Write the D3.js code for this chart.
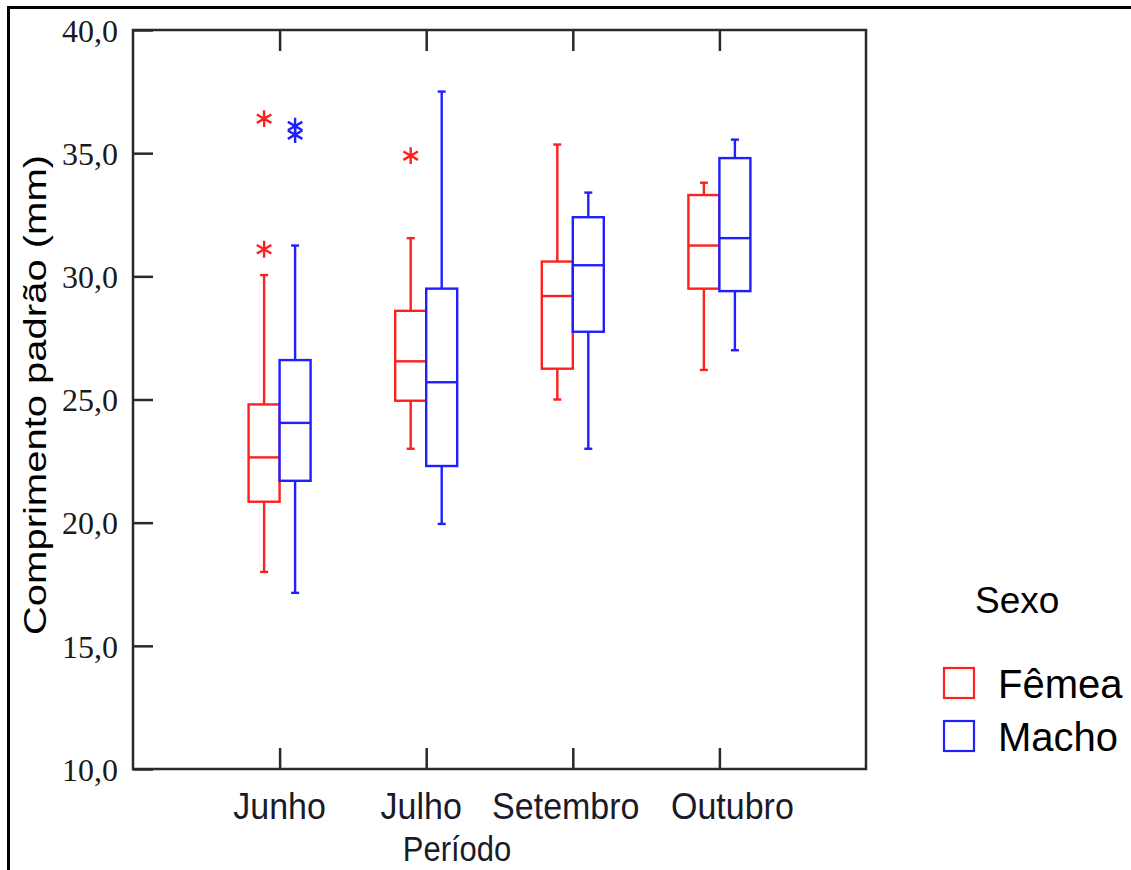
<!DOCTYPE html>
<html>
<head>
<meta charset="utf-8">
<script src="https://cdn.jsdelivr.net/npm/d3@7"></script>
<style>
  html, body { margin: 0; padding: 0; background: #fff; }
  svg { display: block; }
</style>
</head>
<body>
<svg id="chart" width="1131" height="870"></svg>
<script>
// Standard length (mm) by sampling period and sex
const categories = ["Junho", "Julho", "Setembro", "Outubro"];
const sexes = ["Fêmea", "Macho"];
const yTicks = [10, 15, 20, 25, 30, 35, 40];

const femeaMin = [18.0, 23.0, 25.0, 26.2];
const femeaQ1  = [20.85, 24.95, 26.25, 29.5];
const femeaMed = [22.65, 26.55, 29.2, 31.25];
const femeaQ3  = [24.8, 28.6, 30.6, 33.3];
const femeaMax = [30.05, 31.55, 35.35, 33.8];

const machoMin = [17.15, 19.95, 23.0, 27.0];
const machoQ1  = [21.7, 22.3, 27.75, 29.4];
const machoMed = [24.05, 25.7, 30.45, 31.55];
const machoQ3  = [26.6, 29.5, 32.4, 34.8];
const machoMax = [31.25, 37.5, 33.4, 35.55];

const femeaOutCat = ["Junho", "Junho", "Julho"];
const femeaOutVal = [36.4, 31.1, 34.9];
const machoOutCat = ["Junho", "Junho"];
const machoOutVal = [36.1, 35.75];

const colors = { "Fêmea": "#ff1f1f", "Macho": "#1f1fff" };

const boxes = [];
categories.forEach((c, i) => {
  boxes.push({ cat: c, sex: "Fêmea", min: femeaMin[i], q1: femeaQ1[i], med: femeaMed[i], q3: femeaQ3[i], max: femeaMax[i] });
  boxes.push({ cat: c, sex: "Macho", min: machoMin[i], q1: machoQ1[i], med: machoMed[i], q3: machoQ3[i], max: machoMax[i] });
});
const outliers = [
  ...femeaOutCat.map((c, i) => ({ cat: c, sex: "Fêmea", v: femeaOutVal[i] })),
  ...machoOutCat.map((c, i) => ({ cat: c, sex: "Macho", v: machoOutVal[i] }))
];

const svg = d3.select("#chart");
const plot = { left: 133, right: 866, top: 30, bottom: 769 };

const x = d3.scalePoint().domain(categories).range([plot.left, plot.right]).padding(1);
const xs = d3.scaleBand().domain(sexes).range([-31, 31]);
const y = d3.scaleLinear().domain([10, 40]).range([plot.bottom, plot.top]);

const axisColor = "#2a2a2a";

// outer frame (top and left edges)
svg.append("line").attr("x1", 8).attr("x2", 1131).attr("y1", 7.5).attr("y2", 7.5)
  .attr("stroke", "#000").attr("stroke-width", 3);
svg.append("line").attr("x1", 8.5).attr("x2", 8.5).attr("y1", 6).attr("y2", 870)
  .attr("stroke", "#000").attr("stroke-width", 3);

// plot frame
svg.append("rect")
  .attr("x", plot.left).attr("y", plot.top)
  .attr("width", plot.right - plot.left).attr("height", plot.bottom - plot.top)
  .attr("fill", "none").attr("stroke", axisColor).attr("stroke-width", 2.5);

// y axis with inward ticks
const yAxis = d3.axisRight(y).tickValues(yTicks).tickSize(20)
  .tickFormat(d => d3.format(".1f")(d).replace(".", ","));
const gy = svg.append("g").attr("transform", `translate(${plot.left},0)`).call(yAxis);
gy.select(".domain").remove();
gy.selectAll(".tick line").attr("stroke", axisColor).attr("stroke-width", 2.5);
gy.selectAll(".tick text")
  .attr("x", -15).attr("dy", "0.35em").attr("text-anchor", "end")
  .attr("fill", "#1a1a1a")
  .style("font-family", "'Liberation Serif', serif").style("font-size", "32px");

// x axis ticks at bottom (inward) and top (inward)
const xAxisB = d3.axisTop(x).tickSize(21).tickFormat("");
const gxb = svg.append("g").attr("transform", `translate(0,${plot.bottom})`).call(xAxisB);
gxb.select(".domain").remove();
gxb.selectAll(".tick line").attr("stroke", axisColor).attr("stroke-width", 2.5);

const xAxisT = d3.axisBottom(x).tickSize(21).tickFormat("");
const gxt = svg.append("g").attr("transform", `translate(0,${plot.top})`).call(xAxisT);
gxt.select(".domain").remove();
gxt.selectAll(".tick line").attr("stroke", axisColor).attr("stroke-width", 2.5);

// category labels (small nudges keep neighbouring labels apart)
const labelNudge = { "Junho": 0, "Julho": -5, "Setembro": -7, "Outubro": 13 };
svg.append("g").selectAll("text").data(categories).join("text")
  .attr("transform", d => `translate(${x(d) + labelNudge[d]},819) scale(1,1.1)`)
  .attr("text-anchor", "middle")
  .attr("fill", "#1a1a2a")
  .style("font-family", "'Liberation Sans', Arial, sans-serif").style("font-size", "34px")
  .text(d => d);

// axis titles
svg.append("text")
  .attr("transform", "translate(457,861) scale(1,1.15)")
  .attr("text-anchor", "middle").attr("fill", "#1a1a2a")
  .style("font-family", "'Liberation Sans', Arial, sans-serif").style("font-size", "31px")
  .text("Período");

svg.append("text")
  .attr("transform", "translate(46,395) scale(1,1.25) rotate(-90)")
  .attr("text-anchor", "middle").attr("fill", "#000")
  .style("font-family", "'Liberation Sans', Arial, sans-serif").style("font-size", "32px")
  .text("Comprimento padrão (mm)");

// box plots
const g = svg.append("g");
const bx = d => x(d.cat) + xs(d.sex);
const cx = d => bx(d) + xs.bandwidth() / 2;
const capW = 4;

const items = g.selectAll("g.box").data(boxes).join("g").attr("class", "box")
  .attr("stroke", d => colors[d.sex]).attr("stroke-width", 2.4).attr("fill", "none");

items.append("line")
  .attr("x1", cx).attr("x2", cx).attr("y1", d => y(d.max)).attr("y2", d => y(d.q3));
items.append("line")
  .attr("x1", cx).attr("x2", cx).attr("y1", d => y(d.q1)).attr("y2", d => y(d.min));
items.append("line")
  .attr("x1", d => cx(d) - capW).attr("x2", d => cx(d) + capW)
  .attr("y1", d => y(d.max)).attr("y2", d => y(d.max));
items.append("line")
  .attr("x1", d => cx(d) - capW).attr("x2", d => cx(d) + capW)
  .attr("y1", d => y(d.min)).attr("y2", d => y(d.min));
items.append("rect")
  .attr("x", bx).attr("width", xs.bandwidth())
  .attr("y", d => y(d.q3)).attr("height", d => y(d.q1) - y(d.q3))
  .attr("fill", "#fff");
items.append("line")
  .attr("x1", bx).attr("x2", d => bx(d) + xs.bandwidth())
  .attr("y1", d => y(d.med)).attr("y2", d => y(d.med));

// extreme values as asterisks
const star = d3.symbol().type(d3.symbolAsterisk).size(200);
g.selectAll("path.out").data(outliers).join("path").attr("class", "out")
  .attr("d", star)
  .attr("transform", d => `translate(${cx(d)},${y(d.v)})`)
  .attr("fill", "none").attr("stroke", d => colors[d.sex]).attr("stroke-width", 2.4);

// legend
const legend = svg.append("g");
legend.append("text")
  .attr("x", 975).attr("y", 613)
  .attr("fill", "#000")
  .style("font-family", "'Liberation Sans', Arial, sans-serif").style("font-size", "37px")
  .text("Sexo");
const li = legend.selectAll("g.item").data(sexes).join("g").attr("class", "item")
  .attr("transform", (d, i) => `translate(0,${i * 53})`);
li.append("rect")
  .attr("x", 944).attr("y", 668).attr("width", 30).attr("height", 30)
  .attr("fill", "none").attr("stroke", d => colors[d]).attr("stroke-width", 2.2);
li.append("text")
  .attr("x", 998).attr("y", 698)
  .attr("fill", "#000")
  .style("font-family", "'Liberation Sans', Arial, sans-serif").style("font-size", "40px")
  .text(d => d);
</script>
</body>
</html>
